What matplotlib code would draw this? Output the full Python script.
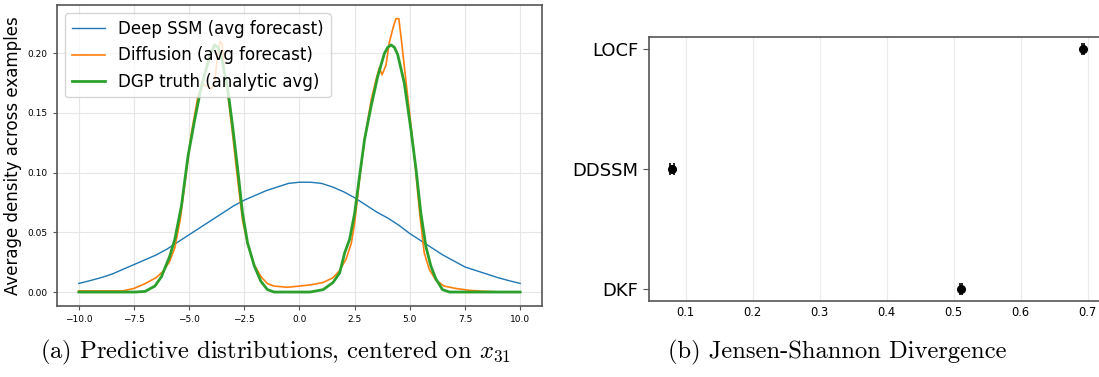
import matplotlib
matplotlib.use("Agg")
import matplotlib.pyplot as plt

plt.rcParams['mathtext.fontset'] = 'cm'

# (a) predictive densities
ssm_x = [-10, -9.5, -9, -8.5, -8, -7.5, -7, -6.5, -6, -5.5, -5, -4.5, -4, -3.5, -3,
         -2.5, -2, -1.5, -1, -0.5, 0, 0.5, 1, 1.5, 2, 2.5, 3, 3.5, 4, 4.5, 5,
         5.5, 6, 6.5, 7, 7.5, 8, 8.5, 9, 9.5, 10]
ssm_y = [0.0072, 0.0095, 0.012, 0.015, 0.019, 0.023, 0.027, 0.031, 0.036, 0.042, 0.048,
         0.054, 0.060, 0.066, 0.072, 0.077, 0.081, 0.085, 0.088, 0.091, 0.092, 0.092,
         0.091, 0.088, 0.084, 0.079, 0.073, 0.067, 0.062, 0.056, 0.049, 0.043, 0.037,
         0.031, 0.026, 0.021, 0.018, 0.015, 0.012, 0.0095, 0.0072]

diff_x = [-10, -8.5, -8, -7.5, -7.0, -6.5, -6.2, -5.9, -5.65, -5.4, -5.15, -4.9, -4.6,
          -4.35, -4.15, -4.0, -3.85, -3.7, -3.6, -3.5, -3.4, -3.25, -3.03, -2.8, -2.58,
          -2.35, -2.05, -1.75, -1.45, -1.15, -0.55, 0, 0.5, 1.07, 1.52, 1.82, 2.12, 2.35,
          2.5, 2.72, 2.95, 3.25, 3.47, 3.62, 3.74, 3.92, 4.07, 4.25, 4.37, 4.5, 4.6, 4.75,
          4.97, 5.2, 5.43, 5.65, 5.88, 6.18, 6.55, 7.08, 7.68, 8.28, 9, 10]
diff_y = [0.001, 0.001, 0.001, 0.003, 0.007, 0.012, 0.017, 0.025, 0.037, 0.061, 0.097,
          0.133, 0.164, 0.174, 0.172, 0.170, 0.175, 0.200, 0.210, 0.208, 0.183, 0.166,
          0.132, 0.094, 0.060, 0.040, 0.023, 0.013, 0.007, 0.005, 0.004, 0.005, 0.006,
          0.008, 0.012, 0.018, 0.028, 0.041, 0.058, 0.094, 0.128, 0.161, 0.178, 0.188,
          0.182, 0.190, 0.209, 0.222, 0.229, 0.229, 0.214, 0.189, 0.153, 0.114, 0.069,
          0.033, 0.019, 0.010, 0.005, 0.003, 0.0015, 0.0007, 0.0002, 0.0]

dgp_x = [-10, -8, -7.45, -7.0, -6.55, -6.25, -5.88, -5.65, -5.35, -5.05, -4.75, -4.45,
         -4.15, -4.0, -3.85, -3.7, -3.55, -3.25, -3.03, -2.8, -2.58, -2.35, -2.05, -1.75,
         -1.45, -1.15, 0, 0.47, 1.07, 1.52, 1.82, 2.05, 2.27, 2.5, 2.72, 2.95, 3.25, 3.55,
         3.85, 4.0, 4.15, 4.3, 4.45, 4.75, 5.05, 5.28, 5.5, 5.73, 5.95, 6.18, 6.48, 6.8,
         8, 10]
dgp_y = [0, 0, 0, 0.0005, 0.005, 0.013, 0.030, 0.044, 0.072, 0.114, 0.144, 0.172, 0.192,
         0.201, 0.207, 0.205, 0.198, 0.170, 0.139, 0.103, 0.066, 0.041, 0.022, 0.009,
         0.002, 0, 0, 0, 0.002, 0.008, 0.016, 0.033, 0.044, 0.066, 0.097, 0.128, 0.156,
         0.181, 0.200, 0.205, 0.207, 0.205, 0.199, 0.175, 0.136, 0.103, 0.066, 0.038,
         0.022, 0.011, 0.002, 0, 0, 0]

# (b) Jensen-Shannon divergence per model
models = ['DKF', 'DDSSM', 'LOCF']
jsd = [0.511, 0.079, 0.693]
jsd_err = [0.002, 0.003, 0.002]

fig = plt.figure(figsize=(10.99, 3.77), dpi=100)

spine_col = '#555555'

ax1 = fig.add_axes([0.0516, 0.1891, 0.4418, 0.7976])
ax1.plot(ssm_x, ssm_y, color='C0', lw=1.0, label='Deep SSM (avg forecast)')
ax1.plot(diff_x, diff_y, color='C1', lw=1.2, label='Diffusion (avg forecast)')
ax1.plot(dgp_x, dgp_y, color='C2', lw=2.0, label='DGP truth (analytic avg)')
ax1.set_ylabel('Average density across examples', fontsize=12)
ax1.tick_params(labelsize=6.5, length=3, color=spine_col)
ax1.grid(True, color='#e6e6e6', lw=0.8)
ax1.set_axisbelow(True)
ax1.legend(loc='upper left', fontsize=12)
for s in ax1.spines.values():
    s.set_color(spine_col)
    s.set_linewidth(1.2)

# right panel is cut off at the figure edge, like the source
ax2 = fig.add_axes([0.5905, 0.2016, 0.4150, 0.7003])
ax2.errorbar(jsd, models, xerr=jsd_err, fmt='o', color='black', ms=5.5,
             capsize=4, elinewidth=1.2, capthick=1.2)
ax2.tick_params(axis='y', labelsize=13, length=4, color=spine_col)
ax2.tick_params(axis='x', labelsize=8.3, length=0)
ax2.set_xticks([0.1, 0.2, 0.3, 0.4, 0.5, 0.6, 0.7])
ax2.grid(True, axis='x', color='#ebebeb', lw=0.8)
ax2.set_axisbelow(True)
for s in ax2.spines.values():
    s.set_color(spine_col)
    s.set_linewidth(1.2)
ax2.spines['right'].set_visible(False)

fig.text(275 / 1099, 1 - 352 / 377, r'(a) Predictive distributions, centered on $x_{31}$',
         ha='center', va='center', fontsize=17.7, family='cmr10')
fig.text(837 / 1099, 1 - 352 / 377, '(b) Jensen-Shannon Divergence',
         ha='center', va='center', fontsize=17.7, family='cmr10')

fig.savefig('out.png', dpi=100)
